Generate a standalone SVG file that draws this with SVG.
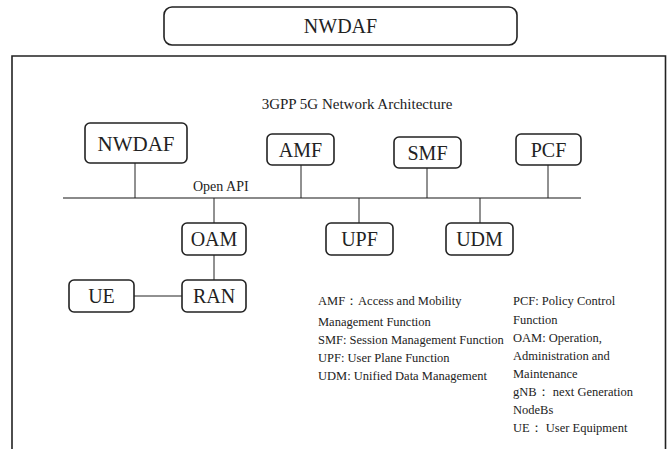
<svg xmlns="http://www.w3.org/2000/svg" width="667" height="449" viewBox="0 0 667 449">
<style>
text{font-family:'Liberation Serif','DejaVu Serif','Times New Roman',serif;fill:#222}
.box{fill:#fff;stroke:#222;stroke-width:1.6}
.lbl{font-size:20px;text-anchor:middle}
.ln{stroke:#222;stroke-width:1;fill:none}
.bus{stroke:#8a8a8a;stroke-width:2.2;fill:none}
.leg{font-size:12.5px}
.ttl{font-size:15px;text-anchor:middle}
</style>
<rect width="667" height="449" fill="#fff"/>
<g id="top-nwdaf">
<rect class="box" x="164" y="7" width="353" height="38" rx="8"/>
<text class="lbl" x="340.5" y="33">NWDAF</text>
</g>
<g id="frame">
<path d="M12,449 V56 H665.5 V449" fill="none" stroke="#222" stroke-width="1.6"/>
<text class="ttl" x="357" y="109">3GPP 5G Network Architecture</text>
</g>
<g id="connectors">
<line class="bus" x1="63" y1="198" x2="581" y2="198"/>
<line class="ln" x1="135" y1="163" x2="135" y2="198"/>
<line class="ln" x1="301" y1="165" x2="301" y2="198"/>
<line class="ln" x1="427" y1="168" x2="427" y2="198"/>
<line class="ln" x1="548" y1="165" x2="548" y2="198"/>
<line class="ln" x1="214" y1="198" x2="214" y2="223"/>
<line class="ln" x1="359" y1="198" x2="359" y2="223"/>
<line class="ln" x1="480" y1="198" x2="480" y2="223"/>
<line class="ln" x1="214" y1="255" x2="214" y2="280"/>
<line class="ln" x1="134" y1="296" x2="182" y2="296"/>
<text x="193" y="191" font-size="14">Open API</text>
</g>
<g id="nwdaf"><rect class="box" x="85" y="123" width="102" height="40" rx="5"/><text class="lbl" x="136" y="151" style="font-size:21px">NWDAF</text></g>
<g id="amf"><rect class="box" x="267" y="134" width="67" height="31" rx="5"/><text class="lbl" x="300.5" y="157">AMF</text></g>
<g id="smf"><rect class="box" x="394" y="137" width="67" height="31" rx="5"/><text class="lbl" x="427.5" y="160">SMF</text></g>
<g id="pcf"><rect class="box" x="516" y="134" width="65" height="31" rx="5"/><text class="lbl" x="548.5" y="157">PCF</text></g>
<g id="oam"><rect class="box" x="182" y="223" width="64" height="32" rx="5"/><text class="lbl" x="214" y="246">OAM</text></g>
<g id="upf"><rect class="box" x="326" y="223" width="67" height="32" rx="5"/><text class="lbl" x="359.5" y="246">UPF</text></g>
<g id="udm"><rect class="box" x="446" y="223" width="67" height="32" rx="5"/><text class="lbl" x="479.5" y="246">UDM</text></g>
<g id="ran"><rect class="box" x="182" y="280" width="64" height="32" rx="5"/><text class="lbl" x="214" y="303">RAN</text></g>
<g id="ue"><rect class="box" x="69" y="280" width="65" height="32" rx="5"/><text class="lbl" x="101.5" y="303">UE</text></g>
<g id="legend" xml:space="preserve">
<text class="leg" x="318" y="305">AMF：Access and Mobility</text>
<text class="leg" x="318" y="326">Management Function</text>
<text class="leg" x="318" y="344">SMF:  Session Management Function</text>
<text class="leg" x="318" y="362">UPF:   User Plane Function</text>
<text class="leg" x="318" y="380">UDM: Unified Data Management</text>
<text class="leg" x="513" y="305">PCF:   Policy Control</text>
<text class="leg" x="513" y="324">Function</text>
<text class="leg" x="513" y="342">OAM:  Operation,</text>
<text class="leg" x="513" y="360">Administration and</text>
<text class="leg" x="513" y="378">Maintenance</text>
<text class="leg" x="513" y="396">gNB：  next Generation</text>
<text class="leg" x="513" y="414">NodeBs</text>
<text class="leg" x="513" y="432">UE：   User Equipment</text>
</g>
</svg>
